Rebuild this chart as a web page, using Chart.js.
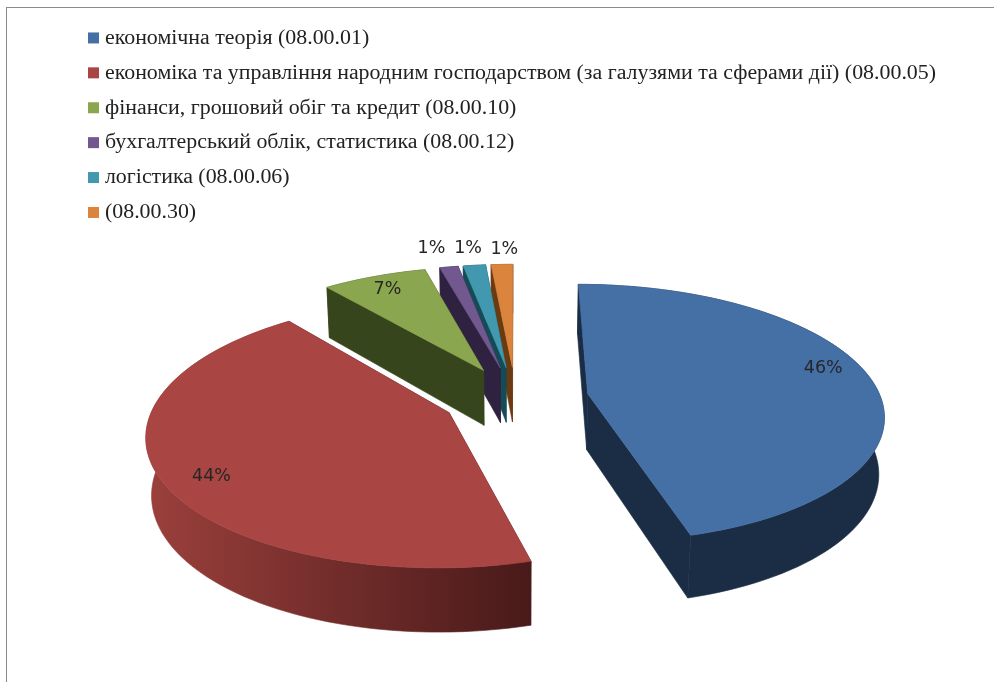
<!DOCTYPE html>
<html>
<head>
<meta charset="utf-8">
<script src="https://cdn.jsdelivr.net/npm/chart.js@4"></script>
<style>
html,body{margin:0;padding:0;background:#fff;overflow:hidden;}
#wrap{position:relative;width:994px;height:682px;overflow:hidden;}
#frame{position:absolute;left:6px;top:7px;width:1000px;height:700px;border:1px solid #8a8a8a;box-sizing:border-box;}
canvas{position:absolute;left:0;top:0;filter:blur(0.4px);}
</style>
</head>
<body>
<div id="wrap">
<div id="frame"></div>
<canvas id="myChart" width="994" height="682"></canvas>
</div>
<script>
const categories = [
  'економічна теорія (08.00.01)',
  'економіка та управління народним господарством (за галузями та сферами дії) (08.00.05)',
  'фінанси, грошовий обіг та кредит (08.00.10)',
  'бухгалтерський облік, статистика (08.00.12)',
  'логістика (08.00.06)',
  '(08.00.30)'
];
const shares = [45.7, 43.5, 6.75, 1.2, 1.45, 1.4];

const topColors = ['#4470a6', '#a94543', '#8aa64f', '#71588f', '#4198af', '#db843d'];
// rim colour left to right
const wallColors = [
  ['#1b2d45', '#1b2d45'],
  ['#9a3f3c', '#481a19'],
  ['#37451c', '#37451c'],
  ['#2f2240', '#2f2240'],
  ['#154a57', '#154a57'],
  ['#6b3a10', '#6b3a10']
];

// where the percent goes: radius along the slice and a small turn in degrees
const labelRadius = [0.865, 0.855, 0.85, 1.225, 1.195, 1.175];
const labelTurn = [-6, -4.5, -0.5, -1.5, -0.2, 0.8];

// the perspective of the pie floor
const view = {cx: 515.5, cy: 398, ax: 293, ay: 127, tilt: 0.15, depth: 57, sink: 0.015};
const explode = 0.25;

function project(u, v, low) {
  const w = 1 - view.tilt * v + (low ? view.sink : 0);
  return {
    x: view.cx + view.ax * u / w,
    y: view.cy + (view.ay * v + (low ? view.depth : 0)) / w
  };
}

function quad(ctx, pts, fill) {
  ctx.beginPath();
  pts.forEach((p, i) => i ? ctx.lineTo(p.x, p.y) : ctx.moveTo(p.x, p.y));
  ctx.closePath();
  ctx.fillStyle = fill;
  ctx.strokeStyle = fill;
  ctx.lineWidth = 0.6;
  ctx.fill();
  ctx.stroke();
}

function drawSlice3d(ctx, el, index) {
  const start = el.startAngle, end = el.endAngle;
  const mid = (start + end) / 2;
  const ou = Math.cos(mid) * explode, ov = Math.sin(mid) * explode;
  const rim = [];
  const steps = Math.max(4, Math.round((end - start) * 30));
  for (let i = 0; i <= steps; i++) {
    const a = start + (end - start) * i / steps;
    rim.push([ou + Math.cos(a), ov + Math.sin(a)]);
  }
  const topRim = rim.map(p => project(p[0], p[1], false));
  const lowRim = rim.map(p => project(p[0], p[1], true));
  const apexTop = project(ou, ov, false);
  const apexLow = project(ou, ov, true);
  const wall = wallColors[index];

  ctx.save();
  // cut faces first, the rim over them, the top last
  quad(ctx, [apexTop, topRim[steps], lowRim[steps], apexLow], wall[1]);
  quad(ctx, [apexTop, topRim[0], lowRim[0], apexLow], wall[1]);

  const xs = lowRim.map(p => p.x);
  const grad = ctx.createLinearGradient(Math.min(...xs), 0, Math.max(...xs), 0);
  grad.addColorStop(0, wall[0]);
  grad.addColorStop(1, wall[1]);
  quad(ctx, topRim.concat(lowRim.slice().reverse()), grad);

  quad(ctx, [apexTop].concat(topRim), el.options.backgroundColor);
  ctx.restore();
}

const pie3d = {
  id: 'pie3d',
  beforeDraw(chart) {
    // the legend clips to its own box, let the long line through
    chart.legend.right = chart.width;
  },
  beforeDatasetsDraw(chart) {
    const arcs = chart.getDatasetMeta(0).data;
    // later slices lie behind the earlier ones, so paint them in reverse
    arcs.forEach((el, i) => {
      const back = arcs.length - 1 - i;
      el.draw = function (ctx) { drawSlice3d(ctx, arcs[back], back); };
    });
  },
  afterDatasetsDraw(chart) {
    const ctx = chart.ctx;
    ctx.save();
    ctx.font = '17.5px "DejaVu Sans"';
    ctx.fillStyle = '#262626';
    ctx.textAlign = 'center';
    ctx.textBaseline = 'middle';
    chart.getDatasetMeta(0).data.forEach((el, i) => {
      const mid = (el.startAngle + el.endAngle) / 2;
      const a = mid + labelTurn[i] * Math.PI / 180;
      const u = Math.cos(mid) * explode + Math.cos(a) * labelRadius[i];
      const v = Math.sin(mid) * explode + Math.sin(a) * labelRadius[i];
      const p = project(u, v, false);
      ctx.fillText(Math.round(shares[i]) + '%', p.x, p.y);
    });
    ctx.restore();
  }
};

const pieLabels = Chart.controllers.pie.overrides.plugins.legend.labels.generateLabels;

new Chart(document.getElementById('myChart'), {
  type: 'pie',
  plugins: [pie3d],
  data: {
    labels: categories,
    datasets: [{data: shares, backgroundColor: topColors, borderWidth: 0}]
  },
  options: {
    responsive: false,
    animation: false,
    layout: {padding: {left: 80, top: 14}},
    plugins: {
      tooltip: {enabled: false},
      legend: {
        position: 'left',
        align: 'start',
        labels: {
          font: {family: '"Liberation Serif"', size: 21.9},
          color: '#222',
          boxWidth: 1,
          boxHeight: 1,
          padding: 13,
          generateLabels(chart) {
            return pieLabels(chart).map(item => {
              item.strokeStyle = item.fillStyle;
              item.lineWidth = 10;
              return item;
            });
          }
        }
      }
    }
  }
});
</script>
</body>
</html>
